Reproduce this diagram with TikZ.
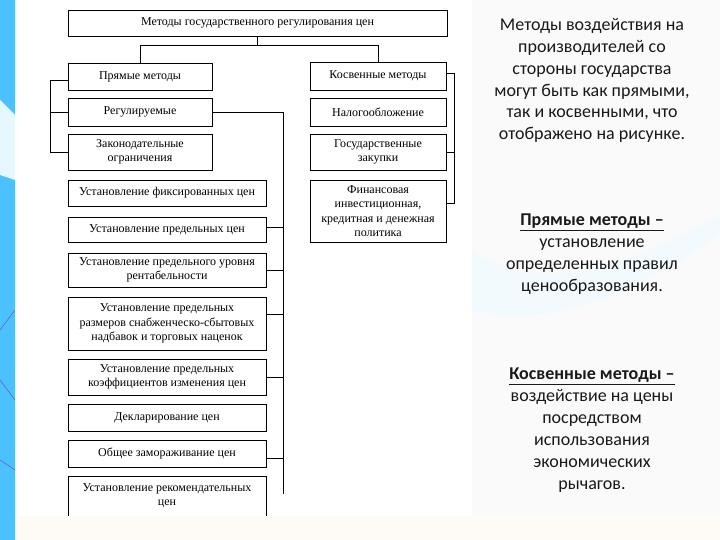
\documentclass[tikz,border=0pt]{standalone}
\usepackage{fontspec}
\setmainfont{Liberation Serif}
\newfontfamily\calfont{Carlito}
\begin{document}
\begin{tikzpicture}[x=1pt,y=-1pt,
  box/.style={draw=black, line width=0.8pt, fill=white, inner sep=0pt, align=center,
    font=\fontsize{12}{14.3}\selectfont},
  conn/.style={draw=black, line width=0.8pt},
  side/.style={align=center, font=\calfont\fontsize{18}{21.9}\selectfont, inner sep=0pt, text=black!90}]
\useasboundingbox (0,0) rectangle (720,540);
% background
\fill[black!4] (0,0) rectangle (720,540);
\fill[black!2] (472,0) rectangle (720,516);
\fill[cyan!5, opacity=0.8] (472,250) .. controls (540,300) and (640,260) .. (720,215) -- (720,235) .. controls (640,290) and (560,330) .. (472,310) -- cycle;
\fill[black!9!orange!3] (0,516) rectangle (720,540);
\fill[blue!35!cyan!70!white] (0,0) rectangle (15,540);
\fill[cyan!10] (0,100) -- (15,115) -- (15,180) -- (0,175) -- cycle;
\draw[blue!60!black!60, line width=0.6pt] (0,330) -- (15,310) (0,380) -- (15,400) (0,460) -- (15,470);
\fill[white] (15,0) rectangle (472,516);
% title
\node[box, minimum width=379pt, minimum height=26pt] (t) at (257.5,23) {Методы государственного регулирования цен};
% left column
\node[box, minimum width=144pt, minimum height=27pt] (pm) at (140,76.5) {Прямые методы};
\node[box, minimum width=144pt, minimum height=28pt] (reg) at (140,112) {Регулируемые};
\node[box, minimum width=144pt, minimum height=36pt] (zak) at (140,152) {Законодательные\\ограничения};
% right column
\node[box, minimum width=136pt, minimum height=28pt] (km) at (378,76) {Косвенные методы};
\node[box, minimum width=136pt, minimum height=28pt] (nal) at (378,112) {Налогообложение};
\node[box, minimum width=136pt, minimum height=36pt] (gz) at (378,152) {Государственные\\закупки};
\node[box, minimum width=136pt, minimum height=62pt] (fin) at (378,211) {Финансовая\\инвестиционная,\\кредитная и денежная\\политика};
% regulated list
\node[box, minimum width=198pt, minimum height=26pt] (b1) at (167,193) {Установление фиксированных цен};
\node[box, minimum width=198pt, minimum height=25pt] (b2) at (167,229.5) {Установление предельных цен};
\node[box, minimum width=198pt, minimum height=34pt] (b3) at (167,270) {Установление предельного уровня\\рентабельности};
\node[box, minimum width=198pt, minimum height=53pt] (b4) at (167,323.5) {Установление предельных\\размеров снабженческо-сбытовых\\надбавок и торговых наценок};
\node[box, minimum width=198pt, minimum height=36pt] (b5) at (167,377) {Установление предельных\\коэффициентов изменения цен};
\node[box, minimum width=198pt, minimum height=27pt] (b6) at (167,417.5) {Декларирование цен};
\node[box, minimum width=198pt, minimum height=27pt] (b7) at (167,453.5) {Общее замораживание цен};
\node[box, minimum width=198pt, minimum height=40pt] (b8) at (167,496) {Установление рекомендательных\\цен};
% connectors
\coordinate (hub) at (257.5,45);
\draw[conn] (t.south) -- (hub);
\draw[conn] (hub) -| (pm.north);
\draw[conn] (hub) -| (km.north);
\coordinate (lb) at (50,0);
\draw[conn] ([yshift=-3.5pt]pm.west) -| (zak.west -| lb) -- (zak.west);
\draw[conn] (reg.west -| lb) -- (reg.west);
\coordinate (rb) at (454,0);
\draw[conn] ([yshift=3pt]km.east) -| ([yshift=8pt]fin.east -| rb) -- ([yshift=8pt]fin.east);
\draw[conn] (gz.east) -- (gz.east -| rb);
\coordinate (bus) at (283,0);
\coordinate (busend) at (283,494);
\draw[conn] (reg.east) -| (busend);
\draw[conn] ([yshift=2.5pt]b2.east) -- ([yshift=2.5pt]b2.east -| bus);
\draw[conn] (b3.east) -- (b3.east -| bus);
\draw[conn] ([yshift=9pt]b4.east) -- ([yshift=9pt]b4.east -| bus);
\draw[conn] (b5.east) -- (b5.east -| bus);
\draw[conn] ([yshift=-4.5pt]b7.east) -- ([yshift=-4.5pt]b7.east -| bus);
% cut the last box at the panel edge
\fill[black!9!orange!3] (15,516) rectangle (472,540);
% side texts
\node[side, anchor=north] (s1) at (592,18) {Методы воздействия на\\производителей со\\стороны государства\\могут быть как прямыми,\\так и косвенными, что\\отображено на рисунке.};
\node[side, anchor=north] (s2) at (592,214) {\underline{\textbf{Прямые методы –}}\\установление\\определенных правил\\ценообразования.};
\node[side, anchor=north] (s3) at (592,368) {\underline{\textbf{Косвенные методы –}}\\воздействие на цены\\посредством\\использования\\экономических\\рычагов.};
\end{tikzpicture}
\end{document}
